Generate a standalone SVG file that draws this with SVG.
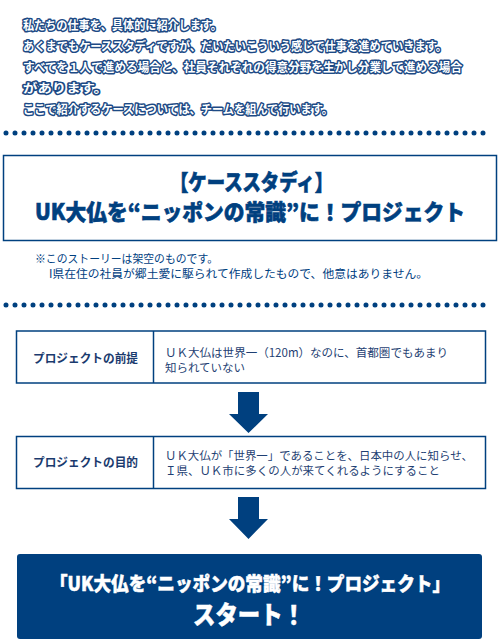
<svg xmlns="http://www.w3.org/2000/svg" width="500" height="639" viewBox="0 0 500 639">
<style>
.jp{font-family:"Noto Sans CJK JP","Noto Sans",sans-serif}
.intro{font-size:12px;font-weight:bold;fill:#fff;stroke:#1d4a85;stroke-width:3px;paint-order:stroke;stroke-linejoin:round}
.dots{stroke:#00407f;stroke-width:5;stroke-linecap:round;stroke-dasharray:0 9;fill:none}
.box{fill:#fff;stroke:#00407f;stroke-width:1.5}
.blue{fill:#00407f}
.ttl{font-size:22px;font-weight:900;fill:#00407f;stroke:#00407f;stroke-width:0.6px}
.note{font-size:11.5px;fill:#00407f}
.lbl{font-size:12px;font-weight:bold;fill:#1a3a6e}
.txt{font-size:11.5px;fill:#1f3f73}
.wt{font-weight:900;fill:#fff;stroke:#fff;stroke-width:0.5px}
</style>
<rect width="500" height="639" fill="#fff"/>
<g id="intro" class="jp intro">
<text x="23" y="29.5" textLength="199" lengthAdjust="spacingAndGlyphs">私たちの仕事を、具体的に紹介します。</text>
<text x="23" y="50.5" textLength="424" lengthAdjust="spacingAndGlyphs">あくまでもケーススタディですが、だいたいこういう感じで仕事を進めていきます。</text>
<text x="23" y="71.5" textLength="439" lengthAdjust="spacingAndGlyphs">すべてを１人で進める場合と、社員それぞれの得意分野を生かし分業して進める場合</text>
<text x="23" y="92.5" textLength="85" lengthAdjust="spacingAndGlyphs">があります。</text>
<text x="23" y="113.5" textLength="310" lengthAdjust="spacingAndGlyphs">ここで紹介するケースについては、チームを組んで行います。</text>
</g>
<g id="dots1"><line class="dots" x1="6" y1="133" x2="492" y2="133"/></g>
<g id="case-title">
<rect class="box" x="3.5" y="155.5" width="493" height="85"/>
<text class="jp ttl" x="251.5" y="190" text-anchor="middle" textLength="163" lengthAdjust="spacingAndGlyphs">【ケーススタディ】</text>
<text class="jp ttl" x="250" y="220" text-anchor="middle" textLength="430" lengthAdjust="spacingAndGlyphs">UK大仏を“ニッポンの常識”に！プロジェクト</text>
</g>
<g id="note" class="jp note">
<text x="35" y="262.5" textLength="183" lengthAdjust="spacingAndGlyphs">※このストーリーは架空のものです。</text>
<text x="49" y="277.5" textLength="379" lengthAdjust="spacingAndGlyphs">I県在住の社員が郷土愛に駆られて作成したもので、他意はありません。</text>
</g>
<g id="dots2"><line class="dots" x1="6" y1="305" x2="492" y2="305"/></g>
<g id="premise">
<rect class="box" x="16.5" y="331" width="469" height="52"/>
<line x1="153.5" y1="331" x2="153.5" y2="383" stroke="#00407f" stroke-width="1.5"/>
<text class="jp lbl" x="33" y="362.5" textLength="105" lengthAdjust="spacingAndGlyphs">プロジェクトの前提</text>
<text class="jp txt" x="165" y="356.5" textLength="283" lengthAdjust="spacingAndGlyphs">ＵＫ大仏は世界一（120m）なのに、首都圏でもあまり</text>
<text class="jp txt" x="165" y="371.5" textLength="80" lengthAdjust="spacingAndGlyphs">知られていない</text>
</g>
<g id="goal">
<rect class="box" x="16.5" y="436.5" width="469" height="52"/>
<line x1="153.5" y1="436.5" x2="153.5" y2="488.5" stroke="#00407f" stroke-width="1.5"/>
<text class="jp lbl" x="33" y="466.5" textLength="105" lengthAdjust="spacingAndGlyphs">プロジェクトの目的</text>
<text class="jp txt" x="165" y="459.5" textLength="308" lengthAdjust="spacingAndGlyphs">ＵＫ大仏が「世界一」であることを、日本中の人に知らせ、</text>
<text class="jp txt" x="165" y="474.5" textLength="275" lengthAdjust="spacingAndGlyphs">Ｉ県、ＵＫ市に多くの人が来てくれるようにすること</text>
</g>
<g id="connectors">
<polygon class="blue" points="238,392 259,392 259,414 268,414 248.5,433 229,414 238,414"/>
<polygon class="blue" points="238,497 259,497 259,519 268,519 248.5,539 229,519 238,519"/>
</g>
<g id="start">
<rect class="blue" x="17" y="554" width="465" height="85" rx="3"/>
<text class="jp wt" x="250" y="591" font-size="19.5" text-anchor="middle" textLength="400" lengthAdjust="spacingAndGlyphs">「UK大仏を“ニッポンの常識”に！プロジェクト」</text>
<text class="jp wt" x="249" y="624" font-size="25" text-anchor="middle" textLength="112" lengthAdjust="spacingAndGlyphs">スタート！</text>
</g>
</svg>
